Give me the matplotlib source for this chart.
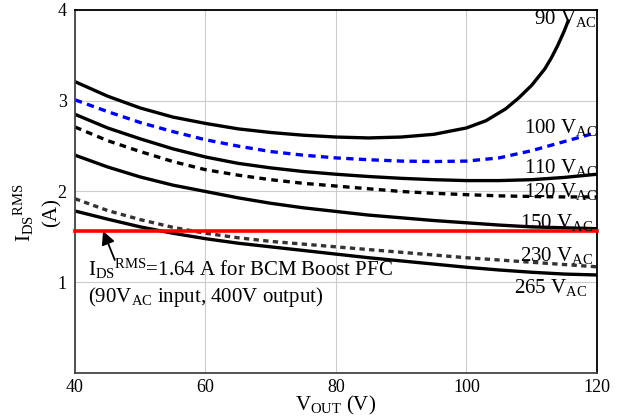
import matplotlib
matplotlib.use("Agg")
import matplotlib.pyplot as plt
import numpy as np

plt.rcParams['font.family'] = ['Liberation Serif', 'DejaVu Serif']
plt.rcParams['mathtext.default'] = 'regular'

# V_OUT grid (V)
vout = [40, 45, 50, 55, 60, 65, 70, 75, 80, 85, 90, 95, 100, 105, 110, 115, 120]

# 90 VAC curve has its own x points (rises steeply near the end)
vout_90 = [40, 45, 50, 55, 60, 65, 70, 75, 80, 85, 90, 95, 100, 103, 106,
           108, 110, 112, 113, 114, 115, 115.6]
ids_90 = [3.21, 3.05, 2.92, 2.82, 2.75, 2.69, 2.65, 2.62, 2.60, 2.59, 2.60,
          2.63, 2.70, 2.78, 2.91, 3.03, 3.17, 3.35, 3.47, 3.61, 3.77, 3.88]

ids_100 = [3.01, 2.88, 2.76, 2.66, 2.57, 2.50, 2.44, 2.40, 2.37, 2.35, 2.335,
           2.33, 2.335, 2.37, 2.45, 2.55, 2.65]
ids_110 = [2.85, 2.70, 2.58, 2.47, 2.38, 2.31, 2.26, 2.22, 2.19, 2.165, 2.145,
           2.13, 2.12, 2.12, 2.13, 2.155, 2.19]
ids_120 = [2.71, 2.56, 2.44, 2.33, 2.24, 2.18, 2.13, 2.09, 2.06, 2.03, 2.00,
           1.98, 1.965, 1.952, 1.945, 1.94, 1.94]
ids_150 = [2.40, 2.27, 2.16, 2.07, 2.00, 1.93, 1.87, 1.82, 1.78, 1.74, 1.71,
           1.68, 1.655, 1.63, 1.61, 1.60, 1.59]
ids_230 = [1.92, 1.79, 1.69, 1.605, 1.54, 1.49, 1.45, 1.42, 1.39, 1.36, 1.33,
           1.30, 1.27, 1.245, 1.22, 1.195, 1.17]
ids_265 = [1.785, 1.695, 1.61, 1.54, 1.48, 1.43, 1.39, 1.35, 1.31, 1.27, 1.235,
           1.20, 1.165, 1.135, 1.11, 1.09, 1.08]

bcm_level = 1.565

labels = ['90', '100', '110', '120', '150', '230', '265']
label_x = [120, 120, 120, 120, 119.4, 119.4, 118.5]
label_y = [3.91, 2.70, 2.26, 2.005, 1.655, 1.30, 0.94]

fig = plt.figure(figsize=(6.38, 4.16), dpi=100)
ax = fig.add_axes([0.1176, 0.1034, 0.818, 0.8726])

lw = 2.4
ax.plot(vout_90, ids_90, color='black', lw=lw)
ax.plot(vout, ids_100, color='#0000ee', lw=lw, ls=(0, (2.2, 1.6)))
ax.plot(vout, ids_110, color='black', lw=lw)
ax.plot(vout, ids_120, color='black', lw=lw, ls=(0, (2.0, 1.6)))
ax.plot(vout, ids_150, color='black', lw=lw)
ax.plot(vout, ids_230, color='#333333', lw=lw, ls=(0, (1.6, 1.3)))
ax.plot(vout, ids_265, color='black', lw=lw)
ax.axhline(bcm_level, color='#ff0000', lw=2.6, zorder=5, clip_on=False)

for lab, lx, ly in zip(labels, label_x, label_y):
    ax.text(lx, ly, lab + ' V$_{AC}$', ha='right', va='center', fontsize=15,
            zorder=6)

ax.text(42.0, 1.146, 'I$_{DS}$$^{RMS}$=1.64 A for BCM Boost PFC',
        ha='left', va='center', fontsize=15)
ax.text(42.0, 0.84, '(90V$_{AC}$ input, 400V output)',
        ha='left', va='center', fontsize=15)
ax.annotate('', xy=(44.3, bcm_level), xytext=(46.1, 1.245),
            arrowprops=dict(arrowstyle='-|>', color='black', lw=1.3,
                            mutation_scale=20, shrinkA=0, shrinkB=0))

ax.set_xlim(40, 120)
ax.set_ylim(0, 4)
ax.set_xticks([40, 60, 80, 100, 120])
ax.set_yticks([1, 2, 3, 4])
ax.tick_params(length=0, labelsize=13, pad=6)
ax.tick_params(axis='x', pad=4)
ax.grid(color='#cccccc', lw=0.8)
ax.set_axisbelow(True)

for side in ['left', 'bottom']:
    ax.spines[side].set_color('#444444')
    ax.spines[side].set_linewidth(1.3)
for side in ['top', 'right']:
    ax.spines[side].set_color('black')
    ax.spines[side].set_linewidth(1.3)

ax.set_xlabel('V$_{OUT}$ (V)', fontsize=15)
ax.xaxis.set_label_coords(0.5, -0.058)

# y label as two rotated lines
fig.text(0.038, 0.488, 'I$_{DS}$$^{RMS}$', rotation=90, ha='center',
         va='center', fontsize=15)
fig.text(0.082, 0.488, '(A)', rotation=90, ha='center', va='center',
         fontsize=15)

fig.savefig('out.png', dpi=100)
